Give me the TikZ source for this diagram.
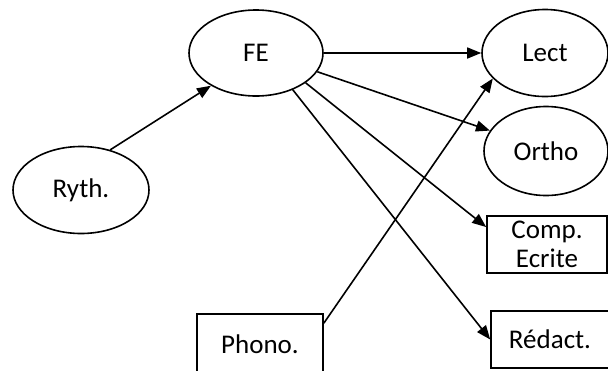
\documentclass[tikz,border=0pt]{standalone}
\usepackage{fontspec}
\setmainfont{Carlito}
\usetikzlibrary{shapes.geometric,arrows.meta}
\begin{document}
\begin{tikzpicture}[x=1pt,y=-1pt,
  every node/.style={font=\fontsize{27}{29}\selectfont, line width=1.6pt, draw, inner sep=0pt},
  ell/.style={ellipse},
  box/.style={rectangle, align=center},
  arr/.style={line width=1.6pt, -{Triangle[length=14pt,width=11pt]}}]
\useasboundingbox (0,0) rectangle (608,370);
\clip (0,0) rectangle (608,370);
\node[ell, minimum width=134pt, minimum height=86pt] (FE) at (256,53) {FE};
\node[ell, minimum width=136pt, minimum height=87pt] (Ryth) at (81,190) {Ryth.};
\node[ell, minimum width=126pt, minimum height=87pt] (Lect) at (545,53) {Lect};
\node[ell, minimum width=124pt, minimum height=89pt] (Ortho) at (546,151) {Ortho};
\node[box, minimum width=120pt, minimum height=57pt] (Comp) at (547,244.5) {Comp.\\Ecrite};
\node[box, minimum width=118pt, minimum height=57pt] (Redact) at (550,339.5) {\raisebox{-2pt}{Rédact.}};
\node[box, minimum width=126pt, minimum height=64pt] (Phono) at (260,346) {\raisebox{3pt}{Phono.}};
\coordinate (ps) at ([yshift=-10pt]Phono.north east);
\draw[arr] (Ryth.54) -- (FE.216);
\draw[arr] (FE.east) -- (Lect.west);
\draw[arr] (FE.-17) -- (Ortho.160);
\draw[arr] (FE.-31) -- (Comp.164);
\draw[arr] (FE.-45) -- (Redact.west);
\draw[arr] (ps) -- (Lect.206);
\end{tikzpicture}
\end{document}
